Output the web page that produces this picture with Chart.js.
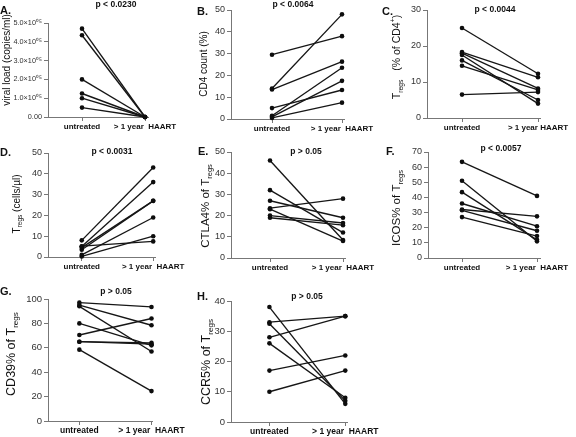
<!DOCTYPE html>
<html>
<head>
<meta charset="utf-8">
<script src="https://cdn.jsdelivr.net/npm/chart.js@4.4.0/dist/chart.umd.min.js"></script>
<style>
body { margin: 0; background: #fff; width: 576px; height: 437px; position: relative; overflow: hidden; }
canvas { position: absolute; }
</style>
</head>
<body>
<canvas id="pA"></canvas>
<canvas id="pB"></canvas>
<canvas id="pC"></canvas>
<canvas id="pD"></canvas>
<canvas id="pE"></canvas>
<canvas id="pF"></canvas>
<canvas id="pG"></canvas>
<canvas id="pH"></canvas>
<script>
// group labels on the x axis
const groups = ['untreated', '> 1 year  HAART'];
const groupsC = ['untreated', '> 1 year HAART'];

// A. viral load
const viralUntreated = [470000, 435000, 200000, 125000, 100000, 50000];
const viralHaart = [0, 0, 0, 0, 0, 0];
const viralTicks = ['0.00', '1.0×10⁰⁵', '2.0×10⁰⁵', '3.0×10⁰⁵', '4.0×10⁰⁵', '5.0×10⁰⁵'];

// B. CD4 count
const cd4Untreated = [29.5, 14, 13.5, 5, 1.5, 1, 0.5];
const cd4Haart = [38, 48, 26.3, 13.3, 23.5, 17.5, 7.5];

// C. Tregs % of CD4+
const tregUntreated = [25, 18.3, 18, 17.5, 16, 14.5, 6.5];
const tregHaart = [12.3, 11.3, 8.2, 4, 5, 7.8, 7.2];

// D. Tregs cells/ul
const countUntreated = [8, 5, 4.5, 3.5, 1, 5.2, 0.3];
const countHaart = [43, 36, 27, 27, 19, 7.5, 10];

// E. CTLA4
const ctlaUntreated = [46, 32, 27, 23.5, 23, 20, 19];
const ctlaHaart = [8.5, 12, 19, 28, 8, 16.5, 15.5];

// F. ICOS
const icosUntreated = [63.5, 51, 43.5, 36, 32, 31.5, 27];
const icosHaart = [41, 11, 12, 21, 27.5, 18, 14.5];

// G. CD39
const cd39Untreated = [97, 95, 94, 80, 70.5, 65, 65, 58.5];
const cd39Haart = [93.5, 78.5, 57, 62, 84, 64, 63, 24.5];

// H. CCR5
const ccr5Untreated = [38, 33, 32.5, 28, 26, 17, 10];
const ccr5Haart = [6, 35, 7, 35, 8, 22, 17];

const FONT = 'Arial, "Liberation Sans", sans-serif';

function textPlugin(c) {
  return {
    id: 'panelText',
    afterDraw(chart) {
      const ctx = chart.ctx;
      const ox = c.box[0], oy = c.box[1];
      ctx.save();
      ctx.fillStyle = '#111';
      ctx.textBaseline = 'middle';
      ctx.textAlign = 'left';
      ctx.font = 'bold 11px ' + FONT;
      ctx.fillText(c.letter, c.letterAt[0] - ox, c.letterAt[1] - oy);
      ctx.textAlign = 'center';
      ctx.font = 'bold 8.5px ' + FONT;
      ctx.fillText(c.p, c.pAt[0] - ox, c.pAt[1] - oy);

      // rotated y title with sub/superscripts
      const s = c.titleSize;
      ctx.translate(c.titleAt[0] - ox, c.titleAt[1] - oy);
      ctx.rotate(-Math.PI / 2);
      ctx.textAlign = 'left';
      ctx.textBaseline = 'alphabetic';
      let total = 0;
      c.title.forEach(seg => {
        ctx.font = (seg.sub || seg.sup ? s * 0.65 : s) + 'px ' + FONT;
        seg.w = ctx.measureText(seg.t).width;
        total += seg.w;
      });
      let x = -total / 2;
      const base = s * 0.36;
      c.title.forEach(seg => {
        ctx.font = (seg.sub || seg.sup ? s * 0.65 : s) + 'px ' + FONT;
        let y = base;
        if (seg.sub) y += s * 0.28;
        if (seg.sup) y -= s * 0.42;
        ctx.fillText(seg.t, x, y);
        x += seg.w;
      });
      ctx.restore();
    }
  };
}

function makePanel(c) {
  const cv = document.getElementById(c.id);
  cv.width = c.box[2];
  cv.height = c.box[3];
  cv.style.left = c.box[0] + 'px';
  cv.style.top = c.box[1] + 'px';
  cv.style.width = c.box[2] + 'px';
  cv.style.height = c.box[3] + 'px';

  const datasets = c.pre.map((v, i) => ({
    data: [{x: 0, y: v}, {x: 1, y: c.post[i]}],
    borderColor: '#161616',
    backgroundColor: '#0d0d0d',
    borderWidth: 1.35,
    pointRadius: 2.3,
    pointBorderWidth: 0,
    clip: false
  }));
  const xlabels = c.groups || groups;

  new Chart(cv, {
    type: 'line',
    data: { datasets },
    options: {
      responsive: false,
      animation: false,
      devicePixelRatio: 1,
      layout: { padding: { left: 0, bottom: 0, top: c.yTop - c.box[1], right: c.box[0] + c.box[2] - c.axisEnd } },
      plugins: { legend: { display: false }, tooltip: { enabled: false } },
      scales: {
        x: {
          type: 'linear',
          min: -(c.xUnt - c.axisX) / (c.xHaart - c.xUnt),
          max: 1 + (c.axisEnd - c.xHaart) / (c.xHaart - c.xUnt),
          afterBuildTicks: s => { s.ticks = [{value: 0}, {value: 1}]; },
          afterFit: s => { s.height = c.box[1] + c.box[3] - c.yBottom; },
          ticks: {
            callback: v => xlabels[v],
            font: { size: c.xFont || 8, weight: 'bold', family: FONT },
            color: '#111', padding: 1, maxRotation: 0, autoSkip: false
          },
          grid: { drawOnChartArea: false, tickLength: 4, color: '#777' },
          border: { color: '#777', width: 1 }
        },
        y: {
          min: 0,
          max: c.ymax,
          afterFit: s => { s.width = c.axisX - c.box[0]; },
          ticks: {
            stepSize: c.step,
            callback: c.tickLabel || (v => v),
            font: { size: c.yFont || 9, family: FONT },
            color: '#333', padding: 2
          },
          grid: { drawOnChartArea: false, tickLength: 4, color: '#777' },
          border: { color: '#777', width: 1 }
        }
      }
    },
    plugins: [textPlugin(c)]
  });
}

const sub = t => ({ t, sub: true });
const sup = t => ({ t, sup: true });
const n = t => ({ t });

makePanel({
  id: 'pA', box: [0, 0, 182, 138], axisX: 48, axisEnd: 148, xUnt: 82, xHaart: 145, yTop: 23, yBottom: 117,
  pre: viralUntreated, post: viralHaart, ymax: 500000, step: 100000, yFont: 7.3,
  tickLabel: (v) => viralTicks[Math.round(v / 100000)],
  letter: 'A.', letterAt: [0, 11], p: 'p < 0.0230', pAt: [116, 5],
  title: [n('viral load (copies/ml)')], titleAt: [6, 60], titleSize: 10
});
makePanel({
  id: 'pB', box: [190, 0, 186, 138], axisX: 231, axisEnd: 344, xUnt: 272, xHaart: 342, yTop: 10, yBottom: 119,
  pre: cd4Untreated, post: cd4Haart, ymax: 50, step: 10,
  letter: 'B.', letterAt: [197, 12], p: 'p < 0.0064', pAt: [293, 5],
  title: [n('CD4 count (%)')], titleAt: [203, 64], titleSize: 10
});
makePanel({
  id: 'pC', box: [380, 0, 196, 138], axisX: 427, axisEnd: 540, xUnt: 462, xHaart: 538, yTop: 10, yBottom: 118,
  pre: tregUntreated, post: tregHaart, ymax: 30, step: 10, groups: groupsC,
  letter: 'C.', letterAt: [382, 12], p: 'p < 0.0044', pAt: [495, 10],
  title: [n('T'), sub('regs'), n('   (% of CD4'), sup('+'), n(')')], titleAt: [396, 57], titleSize: 10.5
});
makePanel({
  id: 'pD', box: [0, 140, 186, 142], axisX: 48, axisEnd: 156, xUnt: 82, xHaart: 154, yTop: 153, yBottom: 257,
  pre: countUntreated, post: countHaart, ymax: 50, step: 10,
  letter: 'D.', letterAt: [0, 153], p: 'p < 0.0031', pAt: [112, 152],
  title: [n('T'), sub('regs'), n(' (cells/µl)')], titleAt: [16, 204], titleSize: 10
});
makePanel({
  id: 'pE', box: [190, 140, 186, 142], axisX: 231, axisEnd: 345, xUnt: 270, xHaart: 343, yTop: 152, yBottom: 258,
  pre: ctlaUntreated, post: ctlaHaart, ymax: 50, step: 10,
  letter: 'E.', letterAt: [198, 152], p: 'p > 0.05', pAt: [306, 152],
  title: [n('CTLA4% of T'), sub('regs')], titleAt: [205, 206], titleSize: 11.5
});
makePanel({
  id: 'pF', box: [380, 140, 196, 142], axisX: 428, axisEnd: 540, xUnt: 462, xHaart: 537, yTop: 152, yBottom: 258,
  pre: icosUntreated, post: icosHaart, ymax: 70, step: 10,
  letter: 'F.', letterAt: [386, 152], p: 'p < 0.0057', pAt: [501, 149],
  title: [n('ICOS% of T'), sub('regs')], titleAt: [396, 208], titleSize: 11.5
});
makePanel({
  id: 'pG', box: [0, 285, 186, 152], axisX: 48, axisEnd: 153, xUnt: 79.5, xHaart: 152, yTop: 299, yBottom: 421,
  pre: cd39Untreated, post: cd39Haart, ymax: 100, step: 20, xFont: 8.5, yFont: 9.5,
  letter: 'G.', letterAt: [0, 292], p: 'p > 0.05', pAt: [116, 292],
  title: [n('CD39% of T'), sub('regs')], titleAt: [10, 354], titleSize: 12.5
});
makePanel({
  id: 'pH', box: [190, 285, 190, 152], axisX: 231, axisEnd: 349, xUnt: 270, xHaart: 347, yTop: 301, yBottom: 422,
  pre: ccr5Untreated, post: ccr5Haart, ymax: 40, step: 10, xFont: 8.5, yFont: 9.5,
  letter: 'H.', letterAt: [197, 297], p: 'p > 0.05', pAt: [307, 297],
  title: [n('CCR5% of T'), sub('regs')], titleAt: [205, 362], titleSize: 12.5
});
</script>
</body>
</html>
